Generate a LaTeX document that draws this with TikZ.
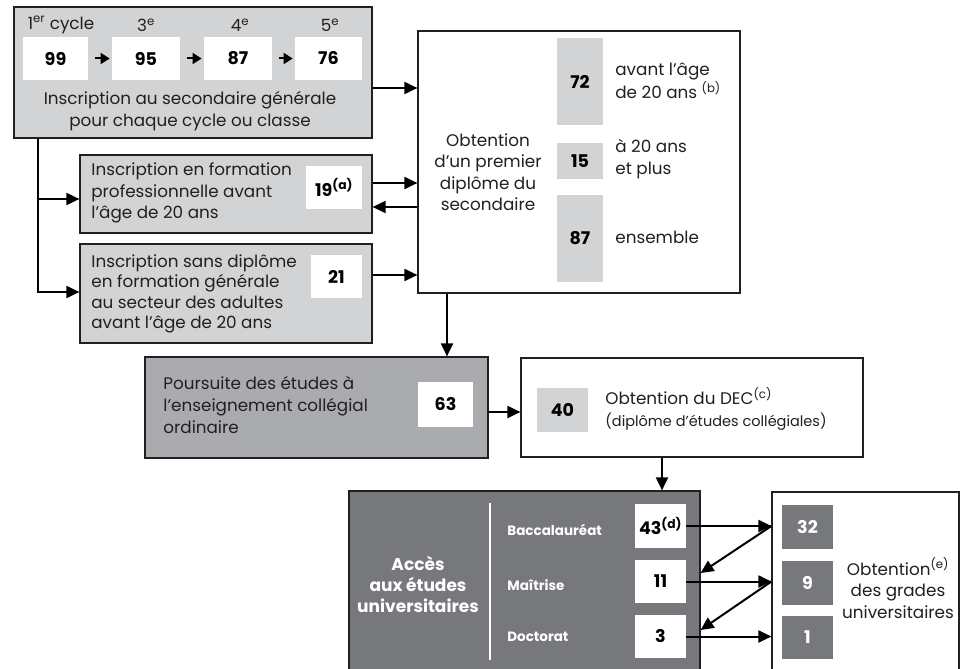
\documentclass[tikz,border=0pt]{standalone}
\usepackage{fontspec}
\setmainfont{Poppins}
\usetikzlibrary{arrows.meta}

\definecolor{grisclair}{RGB}{209,211,212}
\definecolor{grismoyen}{RGB}{169,171,174}
\definecolor{grisfonce}{RGB}{119,120,123}
\definecolor{trait}{RGB}{35,31,32}

\tikzset{every picture/.style={line width=0.75pt}}
\tikzset{
  cadre/.style={draw=trait, line width=1.2pt, inner sep=0pt},
  chiffre/.style={fill=#1, inner sep=0pt, minimum height=43, font=\fontsize{17.5}{18}\selectfont\bfseries},
  chiffre/.default=white,
  texte/.style={inner sep=0pt, text=trait, font=\fontsize{16.8}{21.5}\selectfont},
  blanc/.style={inner sep=0pt, text=white, font=\fontsize{13.5}{21}\selectfont\bfseries},
  fleche/.style={draw=black, line width=2pt, -{Triangle[length=13pt,width=12pt]}},
  petitefleche/.style={draw=black, line width=2pt, -{Triangle[length=9pt,width=11pt]}}
}

\begin{document}
\begin{tikzpicture}[x=1pt,y=1pt,yscale=-1,xscale=1]
\useasboundingbox (0,0) rectangle (961,669);

% Secondaire general
\node[cadre, fill=grisclair, minimum width=358, minimum height=131] (sec) at (193,72.5) {};
\node[texte] (cy1) at (61,25) {1\textsuperscript{er} cycle};
\node[texte] (cy3) at (146,25) {3\textsuperscript{e}};
\node[texte] (cy4) at (240,25) {4\textsuperscript{e}};
\node[texte] (cy5) at (330,25) {5\textsuperscript{e}};
\node[chiffre, minimum width=65] (n99) at (55.5,58.5) {99};
\node[chiffre, minimum width=68] (n95) at (146,58.5) {95};
\node[chiffre, minimum width=68] (n87) at (238,58.5) {87};
\node[chiffre, minimum width=67] (n76) at (328.5,58.5) {76};
\node[texte, align=center] (sect) at (190,111) {Inscription au secondaire générale\\pour chaque cycle ou classe};
\draw[petitefleche] ([xshift=7]n99.east) -- ([xshift=-2]n95.west);
\draw[petitefleche] ([xshift=7]n95.east) -- ([xshift=-2]n87.west);
\draw[petitefleche] ([xshift=7]n87.east) -- ([xshift=-2]n76.west);

% Premier diplome
\node[cadre, fill=white, minimum width=322, minimum height=262] (dip) at (579,162) {};
\node[chiffre=grisclair, minimum width=46, minimum height=87] (n72) at (580,81.5) {72};
\node[chiffre=grisclair, minimum width=46, minimum height=36] (n15) at (580,161) {15};
\node[chiffre=grisclair, minimum width=46, minimum height=87] (n87b) at (580,238.5) {87};
\node[texte, anchor=west, align=left] (t72) at (615,81) {avant l’âge\\de 20 ans \textsuperscript{(b)}};
\node[texte, anchor=west, align=left] (t15) at (615,159) {à 20 ans\\et plus};
\node[texte, anchor=west] (t87) at (615,237) {ensemble};
\node[texte, align=center] (dipt) at (488,172) {Obtention\\d’un premier\\diplôme du\\secondaire};

% Formation professionnelle
\node[cadre, fill=grisclair, minimum width=292, minimum height=78] (pro) at (226,194) {};
\node[texte, anchor=west, align=left] (prot) at (91,193) {Inscription en formation\\professionnelle avant\\l’âge de 20 ans};
\node[chiffre, minimum width=56] (n19) at (334,187.5) {19\textsuperscript{(a)}};

% Formation generale des adultes
\node[cadre, fill=grisclair, minimum width=292, minimum height=99] (adu) at (226,293.5) {};
\node[texte, anchor=west, align=left, font=\fontsize{16.8}{20.5}\selectfont] (adut) at (91,294) {Inscription sans diplôme\\en formation générale\\au secteur des adultes\\avant l’âge de 20 ans};
\node[chiffre, minimum width=51] (n21) at (336.5,276.5) {21};

% Collegial
\node[cadre, fill=grismoyen, minimum width=343, minimum height=101] (pours) at (316.5,407.5) {};
\node[texte, anchor=west, align=left, font=\fontsize{16.8}{22}\selectfont] (pourst) at (163,405) {Poursuite des études à\\l’enseignement collégial\\ordinaire};
\node[chiffre, minimum width=55, minimum height=45] (n63) at (445.5,404.5) {63};

\node[cadre, fill=white, minimum width=342, minimum height=99] (dec) at (692,407.5) {};
\node[chiffre=grisclair, minimum width=51, minimum height=44] (n40) at (562.5,410) {40};
\node[texte, anchor=west, align=left] (dect) at (605,409) {Obtention du DEC\textsuperscript{(c)}\\{\fontsize{14.5}{17}\selectfont (diplôme d’études collégiales)}};

% Universite
\node[cadre, fill=grisfonce, minimum width=351, minimum height=199] (acces) at (524.5,590.5) {};
\draw[white, line width=1.5pt] (490,503) -- (490,660);
\node[blanc, align=center, font=\fontsize{17}{21}\selectfont\bfseries] (accest) at (418,584) {Accès\\aux études\\universitaires};
\node[blanc, anchor=west] (bac) at (507,530) {Baccalauréat};
\node[blanc, anchor=west] (mai) at (507,585) {Maîtrise};
\node[blanc, anchor=west] (doc) at (507,637) {Doctorat};
\node[chiffre, minimum width=51, minimum height=44] (n43) at (660.5,526) {43\textsuperscript{(d)}};
\node[chiffre, minimum width=51] (n11) at (660.5,581.5) {11};
\node[chiffre, minimum width=51] (n3) at (660.5,636.5) {3};

\node[cadre, fill=white, minimum width=187, minimum height=198] (grades) at (865.5,591) {};
\node[chiffre=grisfonce, minimum width=51, minimum height=44, text=white] (n32) at (807.5,527) {32};
\node[chiffre=grisfonce, minimum width=51, minimum height=44, text=white] (n9) at (807.5,583) {9};
\node[chiffre=grisfonce, minimum width=51, minimum height=43, text=white] (n1) at (807.5,637.5) {1};
\node[texte, align=center] (gradest) at (898,588) {Obtention\textsuperscript{(e)}\\des grades\\universitaires};

% Fleches
\draw[fleche] (sec.east |- 0,88) -- (dip.west |- 0,88);
\draw[fleche] (pro.east |- 0,183) -- (dip.west |- 0,183);
\draw[fleche] (dip.west |- 0,207) -- (pro.east |- 0,207);
\draw[fleche] (adu.east |- 0,275) -- (dip.west |- 0,275);
\coordinate (tronc) at (38,138);
\draw[fleche] (tronc) |- (adu.west |- 0,292);
\draw[fleche] (tronc |- 0,199) -- (pro.west |- 0,199);
\draw[fleche] (dip.south -| 447,0) -- (pours.north -| 447,0);
\draw[fleche] (pours.east |- 0,412) -- (dec.west |- 0,412);
\draw[fleche] (dec.south -| 662,0) -- (acces.north -| 662,0);
\draw[fleche] (n43.east) -- (n43.east -| grades.west);
\draw[fleche] (n11.east) -- (n11.east -| grades.west);
\draw[fleche] (n3.east) -- (n3.east -| grades.west);
\draw[fleche] (n43.east -| grades.west) -- (acces.east |- 0,573);
\draw[fleche] (n11.east -| grades.west) -- (acces.east |- 0,630);

\end{tikzpicture}
\end{document}
